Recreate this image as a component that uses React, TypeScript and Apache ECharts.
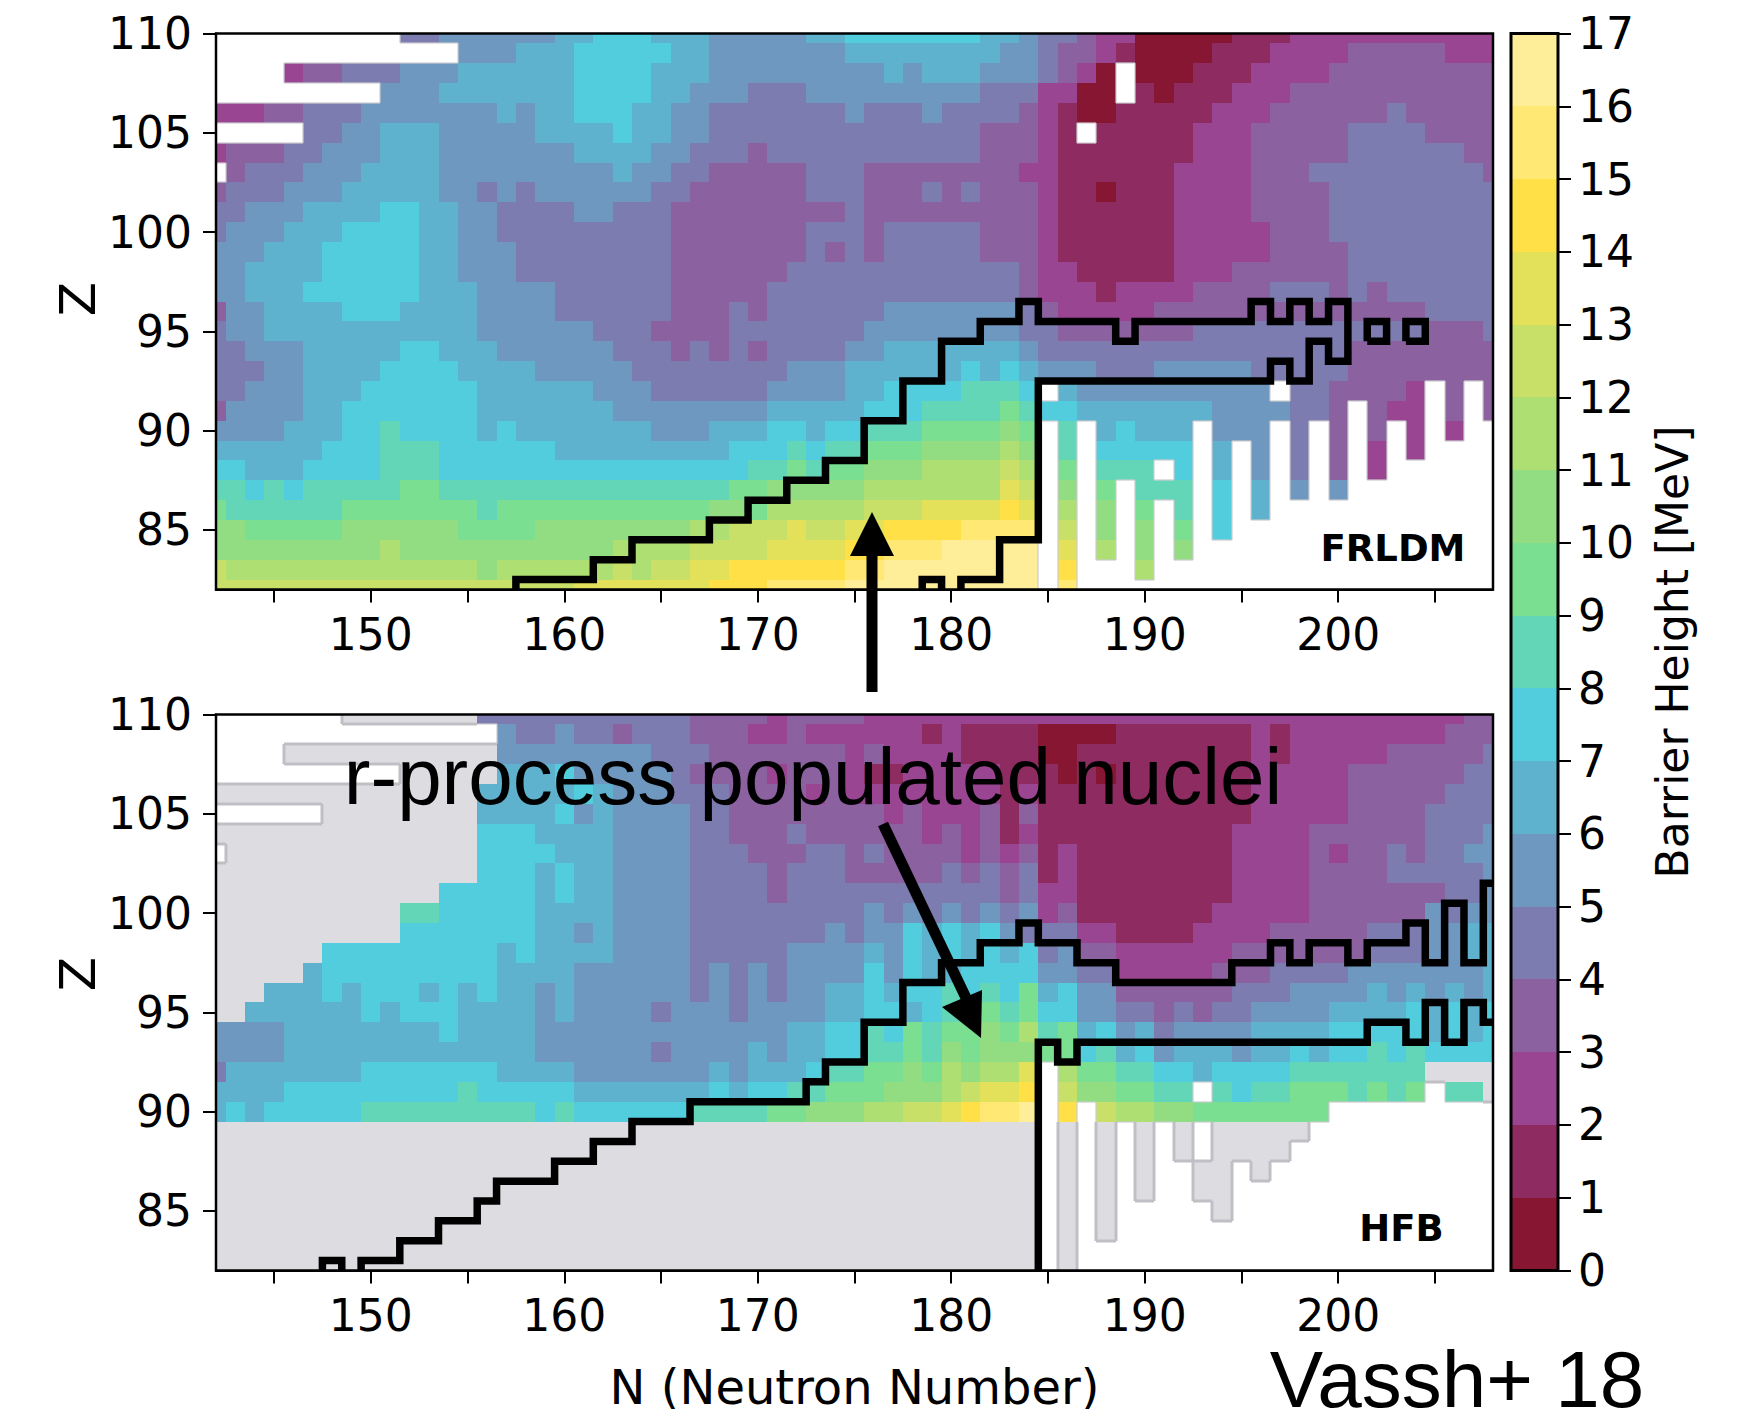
import React, { useEffect, useRef } from "react";
import * as echarts from "echarts";

// Each row is one Z value, from 110 down to 82. A token is a band character followed by the
// last N it covers: 0-9,a-g = barrier band in MeV, "." = no value, "#" = outside the model (grey).
const frldmRows = [
  ".151 4153 5159 6161 7164 6167 5172 6174 7181 6183 5184 4186 3187 2189 0194 1197 2208",
  ".154 5157 6160 7165 6167 5174 6182 5184 4185 3187 2188 1189 0193 1196 2200 3205 2208",
  ".145 2146 3148 4151 5154 6160 7164 6167 5176 6177 5178 6181 5184 4185 3186 2187 0188 .189 0192 1195 2199 3208",
  ".150 5153 6160 7164 6166 5169 4172 5181 4184 2186 0188 .189 1190 0191 1194 2197 3208",
  "2144 3146 4149 5156 6157 5158 6160 7163 6165 5167 4174 5175 4178 5179 4183 3184 2185 1186 0188 1193 2196 3202 4203 3208",
  ".146 4148 5150 6153 5158 6162 7163 6165 5167 4181 3184 2185 1186 .187 1192 2195 3200 4204 3208",
  "2142 3145 4147 5150 6153 5160 6164 5166 4169 3170 4181 3184 2185 1192 2195 3200 4206 3208",
  ".142 3143 4146 5149 6153 5162 6163 5165 4167 3172 4175 3183 2185 1191 2195 3198 4207 3208",
  "3142 4145 5148 6153 5155 4156 5157 4158 5164 4166 3172 4175 3178 4179 3180 4181 3184 2185 1187 0188 1191 2195 3199 4208",
  "4143 5146 6150 7152 6154 5156 4160 5162 4165 3174 4175 3184 2185 1191 2195 3199 4208",
  "4142 5145 6148 7152 6154 5156 4165 3172 4175 3176 4181 3184 2185 1191 2196 3199 4208",
  "5144 6147 7152 6154 5157 4165 3172 4173 3174 4175 3176 4181 3184 2185 1191 2196 3200 4208",
  "5143 6147 7152 6154 5157 4165 3171 4183 3184 2186 1191 2194 3200 4208",
  "5143 6146 7152 6155 5159 4165 3170 4183 3184 2187 1188 2192 3196 4199 3200 4201 3202 4208",
  "3142 5144 6148 7151 6155 5159 4165 3168 4169 3170 4176 5183 4184 3185 2190 3204 4208",
  "4142 5144 6155 5161 4164 3168 4175 5183 4185 3192 4204 3207 4208",
  "4143 5146 6151 7153 6156 5162 4165 3166 4167 3168 4169 3170 4174 5176 6183 5184 4200 3208",
  "4144 5146 6150 7154 6158 5163 4171 5174 6180 7181 6182 7183 6184 5187 4190 5195 4200 3208",
  "4143 5146 6149 7155 6161 5164 4170 5174 6176 7180 8183 7184 .185 6186 5196 .197 4199 3203 2204 .205 3206 .207 3208",
  "3142 5146 6148 7155 6162 5170 6175 7178 8182 9183 8184 7186 6193 5197 4199 3200 .201 3202 2204 .205 3206 .207 3208",
  "5145 6148 7150 8151 7155 6156 7157 6164 5167 6170 7172 6173 7175 8178 9182 a183 9184 .185 8186 .187 6188 7189 6192 .193 5196 .197 4198 .199 3200 .201 3202 .203 2204 .205 2206 .208",
  "6147 7150 8153 7159 6168 7171 8172 7173 8175 9178 a182 b183 a184 .185 8186 .187 7192 .193 6194 .195 5196 .197 4198 .199 3200 .201 2202 .203 2204 .208",
  "7143 6146 7150 8153 7169 8171 9172 8173 9175 a178 b182 c183 b184 .185 9186 .187 8190 .191 7192 .193 6194 .195 5196 .197 4198 .199 3200 .201 2202 .208",
  "8143 7144 8145 7146 8151 9153 8168 9170 a175 b182 d183 c184 .185 a186 .187 9188 .189 8192 .193 7194 .195 6196 .197 5198 .199 5200 .208",
  "9142 8148 9155 8156 9167 a169 9170 b175 c178 d182 e183 d184 .185 b186 .187 a188 .189 9190 .191 8192 .193 7194 .195 6196 .208",
  "a143 9148 a154 9158 a166 b168 c171 d172 c174 d176 e180 f184 .185 c186 .187 a188 .189 a190 .191 9192 .193 7194 .208",
  "a150 b151 a162 b166 c170 d174 e176 f179 g184 .185 d186 .187 b188 .189 a190 .191 a192 .208",
  "c142 b155 a156 b162 c163 b164 c166 d168 e174 f176 g184 .185 e186 .189 b190 .208",
  "c160 d167 e170 f174 g184 .185 f186 .208",
];

const hfbRows = [
  ".148 #155 4166 3170 2171 3175 2206 3208",
  ".156 5157 4159 5160 4162 3163 4166 3169 2171 3172 2178 1179 2180 1184 0188 1195 2196 1197 2205 3208",
  ".145 #156 5164 4167 3174 2175 3176 2180 1184 0186 1195 2196 1197 2202 3207 4208",
  ".151 #156 6159 7160 5165 4166 3170 2171 3174 2175 1177 2182 1185 0186 1187 0188 1195 2200 3206 4208",
  "#155 6160 7161 6162 5165 4168 3172 2173 3174 2182 1183 2184 1195 2200 3205 4208",
  ".147 #155 6159 7160 5161 6162 5166 4168 3176 2177 3178 2181 3182 1183 3184 1195 2200 3204 4208",
  "#155 7158 6162 5166 4168 3171 4172 3178 2179 3180 2181 3182 1183 2184 1194 2198 3204 4207 5208",
  ".142 #155 7159 6162 5166 4169 3172 4174 3175 4176 3180 2181 3182 2183 3184 1185 2186 1194 2198 3199 2200 3202 4203 3204 4206 5208",
  "#155 7158 6159 7160 6162 5166 4170 3171 4174 3179 4180 3181 4182 3183 4184 1185 2186 1194 2198 3202 4207 5208",
  "#153 7158 6159 7160 6162 5166 4170 3171 4182 3183 4184 2186 1194 2198 3205 4207 5208",
  "#151 8153 7158 6162 5166 4175 5176 4177 5178 4179 5180 4181 5182 4183 5184 2185 3186 1193 2198 3204 5205 4206 5208",
  "#151 7158 6160 5161 6162 5166 4173 5174 4175 5177 7178 6179 7180 6181 7182 5183 4186 2188 1192 2196 3201 4204 5206 6208",
  "#147 7156 6157 7158 6162 5166 4171 5175 6176 5177 7178 6179 7180 6181 7182 6183 7184 4185 5186 3188 2194 3201 4204 5206 6208",
  "#146 6147 7156 6160 5166 4167 5168 4169 5170 4171 5175 7176 5177 7178 6180 7184 5186 4188 2193 3196 4200 5207 6208",
  "#144 6147 7148 6149 7152 6153 7154 6155 7156 6158 5159 6160 5166 4167 5168 4169 5170 4171 5173 6175 7176 6177 7179 8180 7181 8182 7183 9184 6185 7186 5188 3194 4197 5201 6202 5203 6204 5205 6206 5207 6208",
  "#143 6149 7150 6151 7154 6158 5159 6160 5164 4165 5168 4169 5173 6175 7177 6178 7179 8181 9182 8183 9184 7186 5188 4190 3191 4192 3193 4195 5199 6203 7204 6205 7206 6207 7208",
  "5145 6153 7154 6158 5171 6173 7175 8176 7177 9178 8179 9181 a182 9183 b184 8185 9186 6187 7188 5189 6190 4191 5195 6199 7204 6205 7206 6207 7208",
  "5145 6158 5164 4165 5169 6170 5171 6173 7175 8177 9178 8179 a180 9181 a184 9186 7187 8188 6189 7190 5191 6194 5195 6197 7198 6199 7201 8202 7203 8204 7208",
  "4142 6149 7156 6160 5167 6168 5169 6172 7173 8175 9177 a178 9179 b180 a181 b183 d184 .185 b186 9188 8190 7192 6193 7197 8204 #208",
  "6145 7154 8155 7160 6167 7168 6169 7171 8173 9176 a179 b180 c181 d183 e184 .185 c186 a188 9190 8192 .193 8194 7195 8197 9200 8201 9202 8203 9204 .205 8207 #208",
  "6142 7143 6144 7149 8158 7159 8160 7166 8170 9172 a175 b177 c179 d180 e181 f183 g184 .185 e186 .187 c188 b190 a192 9199 .208",
  "#184 .185 #186 .187 #188 .189 #190 .191 #192 .193 #198 .208",
  "#184 .185 #186 .187 #188 .189 #190 .191 #192 .193 #197 .208",
  "#184 .185 #186 .187 #188 .189 #190 .192 #194 .195 #196 .208",
  "#184 .185 #186 .187 #188 .189 #190 .192 #194 .208",
  "#184 .185 #186 .187 #188 .193 #194 .208",
  "#184 .185 #186 .187 #188 .208",
  "#184 .185 #186 .208",
  "#184 .185 #186 .208",
];

// Limits of the r-process path, as [N, Z] corners of the nuclide cells.
const frldmUpper = [
  [157.5, 82], [157.5, 82.5], [161.5, 82.5], [161.5, 83.5], [163.5, 83.5], [163.5, 84.5], [167.5, 84.5],
  [167.5, 85.5], [169.5, 85.5], [169.5, 86.5], [171.5, 86.5], [171.5, 87.5], [173.5, 87.5], [173.5, 88.5],
  [175.5, 88.5], [175.5, 90.5], [177.5, 90.5], [177.5, 92.5], [179.5, 92.5], [179.5, 94.5], [181.5, 94.5],
  [181.5, 95.5], [183.5, 95.5], [183.5, 96.5], [184.5, 96.5], [184.5, 95.5], [188.5, 95.5], [188.5, 94.5],
  [189.5, 94.5], [189.5, 95.5], [195.5, 95.5], [195.5, 96.5], [196.5, 96.5], [196.5, 95.5], [197.5, 95.5],
  [197.5, 96.5], [198.5, 96.5], [198.5, 95.5], [199.5, 95.5], [199.5, 96.5], [200.5, 96.5], [200.5, 93.5],
  [199.5, 93.5], [199.5, 94.5], [198.5, 94.5], [198.5, 92.5], [197.5, 92.5], [197.5, 93.5], [196.5, 93.5],
  [196.5, 92.5], [184.5, 92.5], [184.5, 84.5], [182.5, 84.5], [182.5, 82.5], [180.5, 82.5], [180.5, 82],
];
const frldmIslandA = [[178.5, 82], [178.5, 82.5], [179.5, 82.5], [179.5, 82]];
const frldmIslandB = [[201.5, 94.5], [201.5, 95.5], [202.5, 95.5], [202.5, 94.5], [201.5, 94.5]];
const frldmIslandC = [[203.5, 94.5], [203.5, 95.5], [204.5, 95.5], [204.5, 94.5], [203.5, 94.5]];

const hfbUpper = [
  [149.5, 82], [149.5, 82.5], [151.5, 82.5], [151.5, 83.5], [153.5, 83.5], [153.5, 84.5], [155.5, 84.5],
  [155.5, 85.5], [156.5, 85.5], [156.5, 86.5], [159.5, 86.5], [159.5, 87.5], [161.5, 87.5], [161.5, 88.5],
  [163.5, 88.5], [163.5, 89.5], [166.5, 89.5], [166.5, 90.5], [172.5, 90.5], [172.5, 91.5], [173.5, 91.5],
  [173.5, 92.5], [175.5, 92.5], [175.5, 94.5], [177.5, 94.5], [177.5, 96.5], [179.5, 96.5], [179.5, 97.5],
  [181.5, 97.5], [181.5, 98.5], [183.5, 98.5], [183.5, 99.5], [184.5, 99.5], [184.5, 98.5], [186.5, 98.5],
  [186.5, 97.5], [188.5, 97.5], [188.5, 96.5], [194.5, 96.5], [194.5, 97.5], [196.5, 97.5], [196.5, 98.5],
  [197.5, 98.5], [197.5, 97.5], [198.5, 97.5], [198.5, 98.5], [200.5, 98.5], [200.5, 97.5], [201.5, 97.5],
  [201.5, 98.5], [203.5, 98.5], [203.5, 99.5], [204.5, 99.5], [204.5, 97.5], [205.5, 97.5], [205.5, 100.5],
  [206.5, 100.5], [206.5, 97.5], [207.5, 97.5], [207.5, 101.5], [208, 101.5],
];
const hfbLower = [
  [184.5, 82], [184.5, 93.5], [185.5, 93.5], [185.5, 92.5], [186.5, 92.5], [186.5, 93.5], [201.5, 93.5],
  [201.5, 94.5], [203.5, 94.5], [203.5, 93.5], [204.5, 93.5], [204.5, 95.5], [205.5, 95.5], [205.5, 93.5],
  [206.5, 93.5], [206.5, 95.5], [207.5, 95.5], [207.5, 94.5], [208, 94.5],
];
const hfbIsland = [[147.5, 82], [147.5, 82.5], [148.5, 82.5], [148.5, 82]];

const bandColors = [
  "#861632", "#8e2c62", "#9a4592", "#8b61a0", "#7d7cb0", "#6e98bf", "#5fb2cd", "#52cddd", "#63d6b8",
  "#7adf91", "#92dd82", "#aedf72", "#c9e068", "#e3e05a", "#ffe047", "#ffe873", "#ffee99",
];
const colorbarBands = bandColors.map((_, i) => i);
const GREY = "#dddde1";
const GREY_EDGE = "#bfbfc5";
const xTicks = [145, 150, 155, 160, 165, 170, 175, 180, 185, 190, 195, 200, 205];
const xLabels = [150, 160, 170, 180, 190, 200];
const yTicks = [85, 90, 95, 100, 105, 110];
const N_MIN = 142;
const N_MAX = 208;
const Z_MIN = 82;
const Z_MAX = 110;

const MISSING = -1;
const OUTSIDE = -2;

function decodeRow(row: string): number[] {
  const out: number[] = [];
  let n = N_MIN;
  for (const tok of row.split(" ")) {
    const ch = tok[0];
    const end = Number(tok.slice(1));
    const v = ch === "." ? MISSING : ch === "#" ? OUTSIDE : parseInt(ch, 36);
    while (n <= end) {
      out.push(v);
      n++;
    }
  }
  return out;
}

function panelSeries(rows: string[], axisIndex: number): any {
  const table = rows.map(decodeRow);
  const at = (n: number, z: number) => {
    const r = table[Z_MAX - z];
    return r ? r[n - N_MIN] : undefined;
  };
  const data: number[][] = [];
  table.forEach((r, i) => r.forEach((v, j) => data.push([N_MIN + j, Z_MAX - i, v])));
  return {
    type: "custom",
    xAxisIndex: axisIndex,
    yAxisIndex: axisIndex,
    silent: true,
    z: 2,
    encode: { x: 0, y: 1 },
    data,
    renderItem: (_: any, api: any) => {
      const n = api.value(0);
      const z = api.value(1);
      const v = api.value(2);
      const a = api.coord([Math.max(n - 0.5, N_MIN), Math.min(z + 0.5, Z_MAX)]).map(Math.round);
      const b = api.coord([Math.min(n + 0.5, N_MAX), Math.max(z - 0.5, Z_MIN)]).map(Math.round);
      const children: any[] = [];
      if (v !== MISSING) {
        const fill = v === OUTSIDE ? GREY : bandColors[v];
        children.push({
          type: "rect",
          shape: { x: a[0], y: a[1], width: b[0] - a[0], height: b[1] - a[1] },
          style: { fill },
        });
      }
      const edge = (nb: number | undefined, x1: number, y1: number, x2: number, y2: number) => {
        if (nb === undefined) return;
        if (v === OUTSIDE && nb === MISSING) {
          children.push({ type: "line", z2: 6, shape: { x1, y1, x2, y2 }, style: { stroke: GREY_EDGE, lineWidth: 3 } });
        } else if (v === MISSING && nb >= 0) {
          children.push({ type: "line", z2: 5, shape: { x1, y1, x2, y2 }, style: { stroke: "#cbcbcf", lineWidth: 1.2 } });
        }
      };
      if (v < 0) {
        edge(at(n - 1, z), a[0], a[1], a[0], b[1]);
        edge(at(n + 1, z), b[0], a[1], b[0], b[1]);
        edge(at(n, z + 1), a[0], a[1], b[0], a[1]);
        edge(at(n, z - 1), a[0], b[1], b[0], b[1]);
      }
      return { type: "group", children };
    },
  };
}

function contour(points: number[][], axisIndex: number): any {
  return {
    type: "line",
    xAxisIndex: axisIndex,
    yAxisIndex: axisIndex,
    data: points,
    symbol: "none",
    silent: true,
    z: 5,
    lineStyle: { color: "#000", width: 7.5, join: "miter", cap: "butt" },
  };
}

const FONT = "DejaVu Sans";
const TICK_SIZE = 44;

function xAxisFor(gridIndex: number, name?: string): any {
  return {
    type: "value",
    gridIndex,
    min: N_MIN,
    max: N_MAX,
    z: 8,
    splitLine: { show: false },
    axisLine: { show: true, onZero: false, lineStyle: { color: "#000", width: 2 } },
    axisTick: { show: true, customValues: xTicks, length: 13, lineStyle: { color: "#000", width: 2 } },
    axisLabel: { show: true, customValues: xLabels, color: "#000", fontFamily: FONT, fontSize: TICK_SIZE, margin: 23 },
    ...(name
      ? {
          name,
          nameLocation: "middle",
          nameGap: 92,
          nameTextStyle: { color: "#000", fontFamily: FONT, fontSize: 48 },
        }
      : {}),
  };
}

function yAxisFor(gridIndex: number): any {
  return {
    type: "value",
    gridIndex,
    min: Z_MIN,
    max: Z_MAX,
    z: 8,
    splitLine: { show: false },
    axisLine: { show: true, onZero: false, lineStyle: { color: "#000", width: 2 } },
    axisTick: { show: true, customValues: yTicks, length: 13, lineStyle: { color: "#000", width: 2 } },
    axisLabel: { show: true, customValues: yTicks, color: "#000", fontFamily: FONT, fontSize: TICK_SIZE, margin: 24, padding: [4, 0, 0, 0] },
  };
}

function frame(x: number, y: number, width: number, height: number, lineWidth = 2.5): any {
  return { type: "rect", z: 50, silent: true, shape: { x, y, width, height }, style: { fill: "none", stroke: "#000", lineWidth } };
}

function label(text: string, x: number, y: number, fontSize: number, extra: any = {}, family = FONT, weight = "normal", rotation = 0): any {
  return {
    type: "text",
    z: 60,
    x,
    y,
    rotation,
    silent: true,
    style: { text, fontSize, fontFamily: family, fontWeight: weight, fill: "#000", align: "center", verticalAlign: "middle", ...extra },
  };
}

function buildOption(): any {
  const G = { left: 216, width: 1277, topA: 33.5, topB: 714.5, h: 556 };
  return {
    animation: false,
    backgroundColor: "#fff",
    grid: [
      { left: G.left, top: G.topA, width: G.width, height: G.h, outerBoundsMode: "none" },
      { left: G.left, top: G.topB, width: G.width, height: G.h, outerBoundsMode: "none" },
      { left: 1511, top: 33.5, width: 47, height: 1237, outerBoundsMode: "none" },
    ],
    xAxis: [
      xAxisFor(0),
      xAxisFor(1, "N (Neutron Number)"),
      { type: "value", gridIndex: 2, min: 0, max: 1, show: false },
    ],
    yAxis: [
      yAxisFor(0),
      yAxisFor(1),
      {
        type: "value",
        gridIndex: 2,
        position: "right",
        min: 0,
        max: 17,
        interval: 1,
        z: 8,
        splitLine: { show: false },
        axisLine: { show: true, onZero: false, lineStyle: { color: "#000", width: 2 } },
        axisTick: { show: true, length: 13, lineStyle: { color: "#000", width: 2 } },
        axisLabel: { color: "#000", fontFamily: FONT, fontSize: TICK_SIZE, margin: 20, padding: [2, 0, 0, 0] },
        name: "Barrier Height [MeV]",
        nameLocation: "middle",
        nameRotate: 90,
        nameGap: 92,
        nameTextStyle: { color: "#000", fontFamily: FONT, fontSize: 44 },
      },
    ],
    series: [
      panelSeries(frldmRows, 0),
      panelSeries(hfbRows, 1),
      contour(frldmUpper, 0),
      contour(frldmIslandA, 0),
      contour(frldmIslandB, 0),
      contour(frldmIslandC, 0),
      contour(hfbUpper, 1),
      contour(hfbLower, 1),
      contour(hfbIsland, 1),
      {
        type: "custom",
        xAxisIndex: 2,
        yAxisIndex: 2,
        silent: true,
        encode: { y: 0 },
        data: colorbarBands.map((b) => [b]),
        renderItem: (_: any, api: any) => {
          const b = api.value(0);
          const p = api.coord([0, b + 1]).map(Math.round);
          const q = api.coord([1, b]).map(Math.round);
          return {
            type: "rect",
            shape: { x: p[0], y: p[1], width: q[0] - p[0], height: q[1] - p[1] },
            style: { fill: bandColors[b] },
          };
        },
      },
    ],
    graphic: [
      frame(G.left, G.topA, G.width, G.h),
      frame(G.left, G.topB, G.width, G.h),
      frame(1511, 33.5, 47, 1237, 3),
      label("Z", 78, 299, 50, {}, FONT, "normal", Math.PI / 2),
      label("Z", 78, 974, 50, {}, FONT, "normal", Math.PI / 2),
      label("FRLDM", 1393, 548, 37, {}, FONT, "bold"),
      label("HFB", 1401.5, 1228, 37, {}, FONT, "bold"),
      label("r-process populated nuclei", 813, 776, 80, {}, "Liberation Sans"),
      label("Vassh+ 18", 1457, 1379, 80, {}, "Liberation Sans"),
      { type: "polygon", z: 55, silent: true, shape: { points: [[872, 512], [894, 556], [850, 556]] }, style: { fill: "#000" } },
      { type: "line", z: 55, silent: true, shape: { x1: 872, y1: 550, x2: 872, y2: 692 }, style: { stroke: "#000", lineWidth: 11 } },
      { type: "polygon", z: 55, silent: true, shape: { points: [[981, 1038], [942, 1007], [982, 990]] }, style: { fill: "#000" } },
      { type: "line", z: 55, silent: true, shape: { x1: 883, y1: 824, x2: 967, y2: 1000 }, style: { stroke: "#000", lineWidth: 11 } },
    ],
  };
}

export default function App() {
  const ref = useRef<HTMLDivElement>(null);
  useEffect(() => {
    const chart = echarts.init(ref.current!, undefined, { renderer: "svg" });
    chart.setOption(buildOption());
    return () => chart.dispose();
  }, []);
  return <div ref={ref} style={{ position: "fixed", left: 0, top: 0, width: 1742, height: 1409 }} />;
}
